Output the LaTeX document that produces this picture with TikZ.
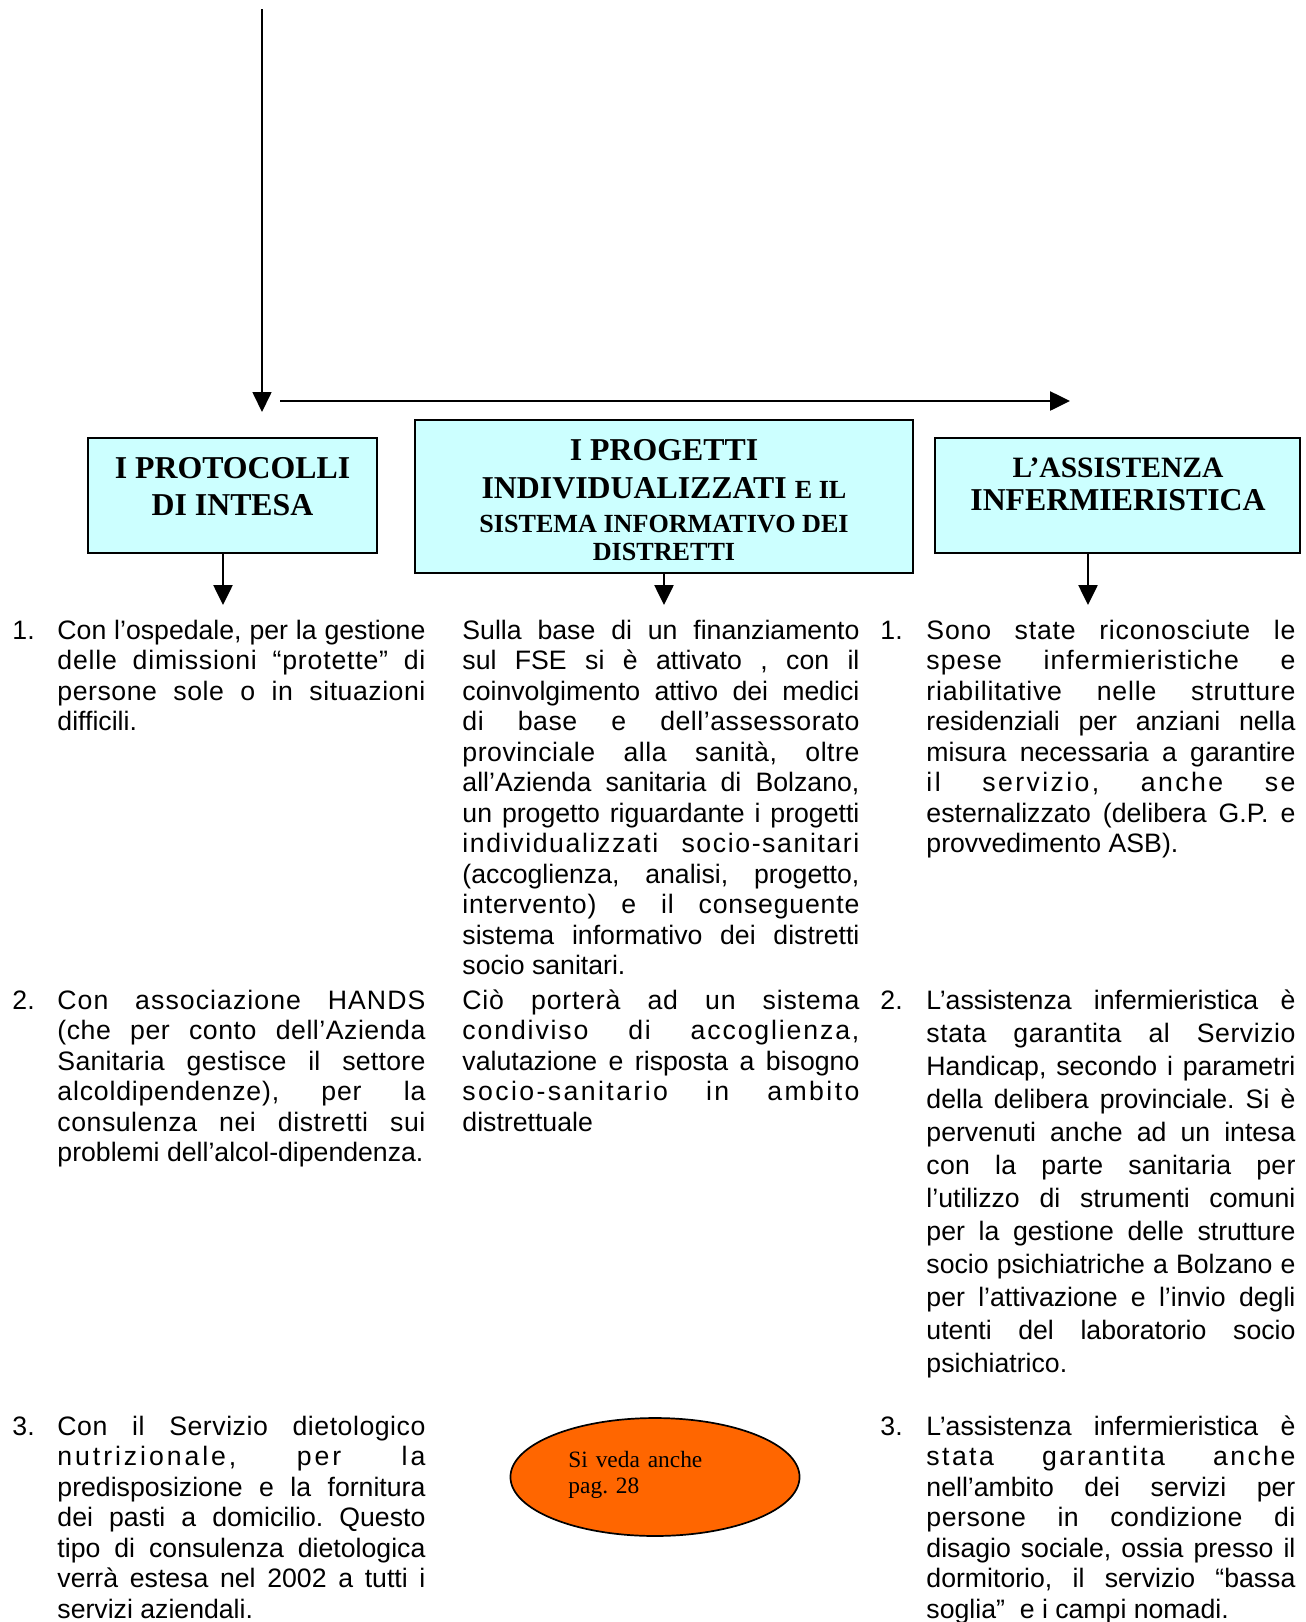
\documentclass[tikz,border=0pt]{standalone}
\usepackage{fontspec}
\setmainfont{Liberation Sans}
\newfontfamily\tnr{Liberation Serif}
\usetikzlibrary{arrows.meta,shapes.geometric}
\definecolor{boxcyan}{HTML}{CCFFFF}
\definecolor{ovalorange}{HTML}{FF6600}
\frenchspacing
\newcommand\jl[1]{\hbox to\cw{#1}}
\newcommand\jls[2]{{\addfontfeature{LetterSpace=#1}\hbox to\cw{#2}}}
\newcommand\lastl[1]{\hbox{#1}}
\newcommand\colL{161.92pt}
\newcommand\colM{174.68pt}
\newcommand\colR{162.36pt}
\begin{document}
\begin{tikzpicture}[x=0.44pt,y=-0.44pt,
  titlebox/.style={draw=black,line width=0.75pt,fill=boxcyan,inner sep=0pt},
  ttl/.style={inner sep=0pt,anchor=base,font=\tnr\bfseries\fontsize{14}{16}\selectfont},
  ttlsmall/.style={ttl,font=\tnr\bfseries\fontsize{11.5}{13}\selectfont},
  para/.style={inner sep=0pt,anchor=base west,font=\fontsize{11.73}{13.42}\selectfont\frenchspacing},
  paraw/.style={para,font=\fontsize{11.73}{14.52}\selectfont\frenchspacing},
  num/.style={inner sep=0pt,anchor=base west,font=\fontsize{11.73}{13.42}\selectfont},
  arr/.style={line width=1pt,-{Triangle[length=8.8pt,width=8.4pt]}},
  thinarr/.style={line width=0.6pt,-{Triangle[length=8.8pt,width=8.4pt]}},
  oval/.style={ellipse,draw=black,line width=0.75pt,fill=ovalorange,inner sep=0pt}]
\useasboundingbox (0,0) rectangle (1305,1622);

% top connectors
\coordinate (vtop) at (262,9);
\coordinate (vtip) at (262,412);
\draw[thinarr] (vtop) -- (vtip);
\coordinate (hstart) at (280,401);
\coordinate (htip) at (1070,401);
\draw[arr] (hstart) -- (htip);

% boxes
\node[titlebox,minimum width=127.16pt,minimum height=50.6pt] (b1) at (232.5,495.5) {};
\node[titlebox,minimum width=219.12pt,minimum height=67.32pt] (b2) at (664,496.5) {};
\node[titlebox,minimum width=160.6pt,minimum height=50.6pt] (b3) at (1117.5,495.5) {};

\node[ttl] (t1a) at (232.5,478) {I PROTOCOLLI};
\node[ttl] (t1b) at (232.5,515) {DI INTESA};
\node[ttl] (t2a) at (664,460) {I PROGETTI};
\node[ttl] (t2b) at (664,498) {INDIVIDUALIZZATI {\fontsize{11.5}{13}\selectfont E IL}};
\node[ttlsmall] (t2c) at (664,532) {SISTEMA INFORMATIVO DEI};
\node[ttlsmall] (t2d) at (664,560) {DISTRETTI};
\node[ttl,font=\tnr\bfseries\fontsize{13}{15}\selectfont] (t3a) at (1118,477) {L’ASSISTENZA};
\node[ttl,font=\tnr\bfseries\fontsize{14}{15}\selectfont] (t3b) at (1118,510) {INFERMIERISTICA};

% arrows below boxes
\coordinate (a1) at (223,605);
\coordinate (a2) at (664,605);
\coordinate (a3) at (1088,605);
\draw[arr] (b1.south -| a1) -- (a1);
\draw[arr] (b2.south -| a2) -- (a2);
\draw[arr] (b3.south -| a3) -- (a3);

% left column
\node[num] (nl1) at (12,639) {1.};
\node[para] (l1) at (57,639) {\def\cw{\colL}\vtop{%
\jl{Con l’ospedale, per la gestione}
\jls{3}{delle dimissioni “protette” di}
\jls{2}{persone sole o in situazioni}
\lastl{difficili.}}};

\node[num] (nl2) at (12,1009) {2.};
\node[para] (l2) at (57,1009) {\def\cw{\colL}\vtop{%
\jls{4}{Con associazione HANDS}
\jls{2}{(che per conto dell’Azienda}
\jls{1}{Sanitaria gestisce il settore}
\jls{3}{alcoldipendenze), per la}
\jls{2}{consulenza nei distretti sui}
\lastl{problemi dell’alcol-dipendenza.}}};

\node[num] (nl3) at (12,1435) {3.};
\node[para] (l3) at (57,1435) {\def\cw{\colL}\vtop{%
\jls{2}{Con il Servizio dietologico}
\jls{11}{nutrizionale, per la}
\jl{predisposizione e la fornitura}
\jl{dei pasti a domicilio. Questo}
\jl{tipo di consulenza dietologica}
\jl{verrà estesa nel 2002 a tutti i}
\lastl{servizi aziendali.}}};

% middle column
\node[para] (m1) at (462,639) {\def\cw{\colM}\vtop{%
\jl{Sulla base di un finanziamento}
\jl{sul FSE si è attivato , con il}
\jl{coinvolgimento attivo dei medici}
\jls{2}{di base e dell’assessorato}
\jls{2}{provinciale alla sanità, oltre}
\jl{all’Azienda sanitaria di Bolzano,}
\jl{un progetto riguardante i progetti}
\jls{6}{individualizzati socio-sanitari}
\jl{(accoglienza, analisi, progetto,}
\jls{3}{intervento) e il conseguente}
\jl{sistema informativo dei distretti}
\lastl{socio sanitari.}}};

\node[para] (m2) at (462,1009) {\def\cw{\colM}\vtop{%
\jls{3}{Ciò porterà ad un sistema}
\jls{7}{condiviso di accoglienza,}
\jl{valutazione e risposta a bisogno}
\jls{9}{socio-sanitario in ambito}
\lastl{distrettuale}}};

\node[oval,minimum width=127.2pt,minimum height=51.9pt] (ov) at (655,1477) {};
\node[inner sep=0pt,anchor=base west,text width=70pt,align=left,
      font=\tnr\fontsize{10.3}{11.44}\selectfont\frenchspacing] (ovt) at (568,1467) {Si veda anche\\pag. 28};

% right column
\node[num] (nr1) at (880,639) {1.};
\node[para] (r1) at (926,639) {\def\cw{\colR}\vtop{%
\jls{3}{Sono state riconosciute le}
\jls{4}{spese infermieristiche e}
\jls{3}{riabilitative nelle strutture}
\jl{residenziali per anziani nella}
\jl{misura necessaria a garantire}
\jls{9}{il servizio, anche se}
\jl{esternalizzato (delibera G.P. e}
\lastl{provvedimento ASB).}}};

\node[num] (nr2) at (880,1009) {2.};
\node[paraw] (r2) at (926,1009) {\def\cw{\colR}\vtop{%
\jl{L’assistenza infermieristica è}
\jls{2}{stata garantita al Servizio}
\jl{Handicap, secondo i parametri}
\jl{della delibera provinciale. Si è}
\jl{pervenuti anche ad un intesa}
\jls{1}{con la parte sanitaria per}
\jl{l’utilizzo di strumenti comuni}
\jl{per la gestione delle strutture}
\jl{socio psichiatriche a Bolzano e}
\jl{per l’attivazione e l’invio degli}
\jl{utenti del laboratorio socio}
\lastl{psichiatrico.}}};

\node[num] (nr3) at (880,1435) {3.};
\node[para] (r3) at (926,1435) {\def\cw{\colR}\vtop{%
\jl{L’assistenza infermieristica è}
\jls{9}{stata garantita anche}
\jl{nell’ambito dei servizi per}
\jls{2}{persone in condizione di}
\jl{disagio sociale, ossia presso il}
\jl{dormitorio, il servizio “bassa}
\lastl{soglia”\ \ e i campi nomadi.}}};
\end{tikzpicture}
\end{document}
